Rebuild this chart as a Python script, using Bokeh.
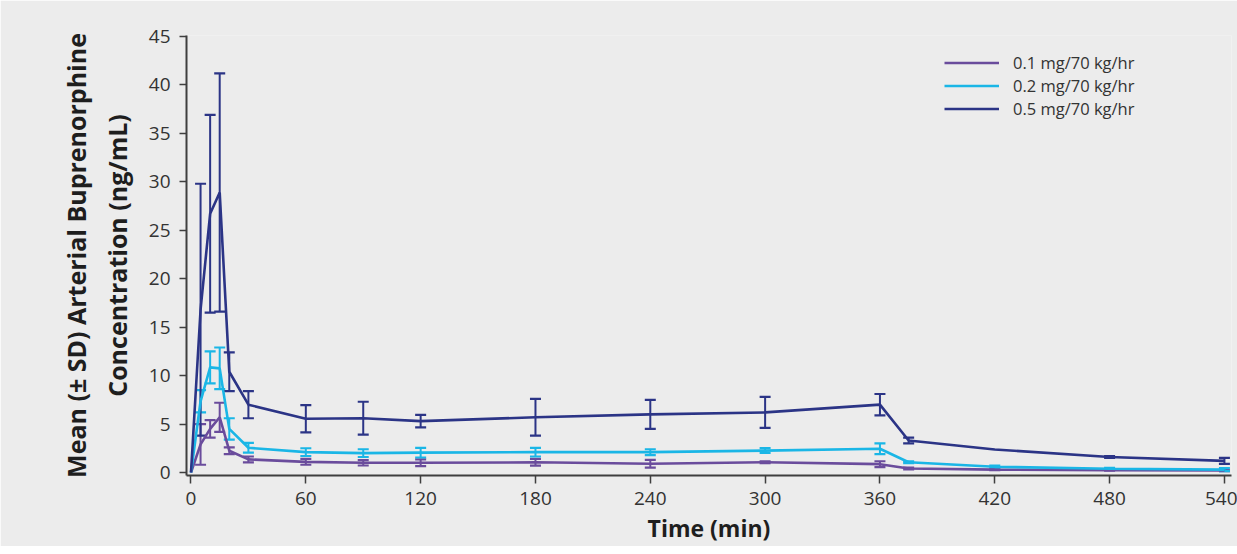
from bokeh.plotting import figure
from bokeh.models import ColumnDataSource, Whisker, TeeHead, FixedTicker, Range1d
from bokeh.embed import file_html
from bokeh.resources import INLINE

# ---- data ----
time_min = [0, 5, 10, 15, 20, 30, 60, 90, 120, 180, 240, 300, 360, 375, 420, 480, 540]

mean_01 = [0, 2.9, 4.5, 5.7, 2.25, 1.35, 1.1, 1.0, 1.0, 1.05, 0.9, 1.06, 0.86, 0.41, 0.3, 0.24, 0.2]
sd_01 = [0, 2.1, 0.9, 1.5, 0.35, 0.3, 0.3, 0.28, 0.35, 0.35, 0.4, 0.1, 0.3, 0.1, 0.05, 0.05, 0.05]

mean_02 = [0, 7.35, 10.85, 10.75, 4.5, 2.55, 2.1, 2.0, 2.05, 2.1, 2.1, 2.26, 2.45, 1.06, 0.6, 0.38, 0.3]
sd_02 = [0, 1.15, 1.65, 2.15, 1.1, 0.5, 0.4, 0.4, 0.5, 0.45, 0.3, 0.25, 0.55, 0.1, 0.1, 0.1, 0.15]

mean_05 = [0, 16.8, 26.7, 28.9, 10.4, 7.0, 5.55, 5.6, 5.3, 5.7, 6.0, 6.2, 7.0, 3.3, 2.37, 1.6, 1.2]
sd_05 = [0, 13.0, 10.2, 12.3, 2.0, 1.4, 1.4, 1.7, 0.65, 1.9, 1.5, 1.6, 1.1, 0.3, 0.0, 0.1, 0.3]

series_labels = ["0.1 mg/70 kg/hr", "0.2 mg/70 kg/hr", "0.5 mg/70 kg/hr"]
x_ticks = [0, 60, 120, 180, 240, 300, 360, 420, 480, 540]
y_ticks = [0, 5, 10, 15, 20, 25, 30, 35, 40, 45]

# ---- style ----
BG = "#ececec"
COLORS = ["#6a4c9c", "#1ab6e6", "#2b3486"]
AXIS_C = "#3f3f3f"
TEXT_C = "#333333"
FONT = "Open Sans"

p = figure(output_backend="svg", toolbar_location=None,
           frame_width=1045, frame_height=440,
           min_border_left=186, min_border_right=6, min_border_top=35, min_border_bottom=60,
           x_range=Range1d(-2.35, 543.7), y_range=Range1d(-0.31, 45.1),
           background_fill_color=BG, border_fill_color=BG)
p.outline_line_color = None
p.grid.visible = False

for s_mean, s_sd, color, lab in zip([mean_01, mean_02, mean_05], [sd_01, sd_02, sd_05], COLORS, series_labels):
    p.line(time_min, s_mean, line_color=color, line_width=2.6, legend_label=lab)
    idx = [i for i, s in enumerate(s_sd) if s > 0]
    src = ColumnDataSource(dict(
        t=[time_min[i] for i in idx],
        lo=[s_mean[i] - s_sd[i] for i in idx],
        hi=[s_mean[i] + s_sd[i] for i in idx],
    ))
    w = Whisker(source=src, base="t", lower="lo", upper="hi",
                line_color=color, line_width=2,
                upper_head=TeeHead(size=11, line_color=color, line_width=2.2),
                lower_head=TeeHead(size=11, line_color=color, line_width=2.2))
    p.add_layout(w)

# axes
for ax in (p.xaxis[0], p.yaxis[0]):
    ax.axis_line_color = AXIS_C
    ax.axis_line_width = 2
    ax.major_tick_line_color = AXIS_C
    ax.major_tick_line_width = 1.5
    ax.major_tick_in = 0
    ax.minor_tick_out = 0
    ax.minor_tick_in = 0
    ax.major_label_text_font = FONT
    ax.major_label_text_font_size = "19px"
    ax.major_label_text_color = TEXT_C
    ax.axis_label_text_font = FONT
    ax.axis_label_text_font_style = "bold"
    ax.axis_label_text_color = "#1e1e1e"

p.xaxis.ticker = FixedTicker(ticks=x_ticks)
p.yaxis.ticker = FixedTicker(ticks=y_ticks)
p.xaxis.major_tick_out = 8
p.yaxis.major_tick_out = 7
p.xaxis.major_label_standoff = 8
p.yaxis.major_label_standoff = 9

p.yaxis.axis_label = "Mean (\u00b1 SD) Arterial Buprenorphine\nConcentration (ng/mL)"
p.yaxis.axis_label_text_font_size = "25px"
p.yaxis.axis_label_standoff = 12
p.xaxis.axis_label = "Time (min)"
p.xaxis.axis_label_text_font_size = "23px"
p.xaxis.axis_label_standoff = 4

# legend
lg = p.legend[0]
lg.location = (758, 355)
lg.background_fill_alpha = 0
lg.border_line_color = None
lg.padding = 0
lg.margin = 0
lg.spacing = 0
lg.glyph_width = 55
lg.glyph_height = 21
lg.label_height = 21
lg.label_standoff = 14
lg.label_text_font = FONT
lg.label_text_font_size = "16.5px"
lg.label_text_color = TEXT_C

html = file_html(p, INLINE)
html = html.replace("<body>", '<body style="overflow:hidden;background-color:%s;">' % BG, 1)
open("out.html", "w").write(html)
